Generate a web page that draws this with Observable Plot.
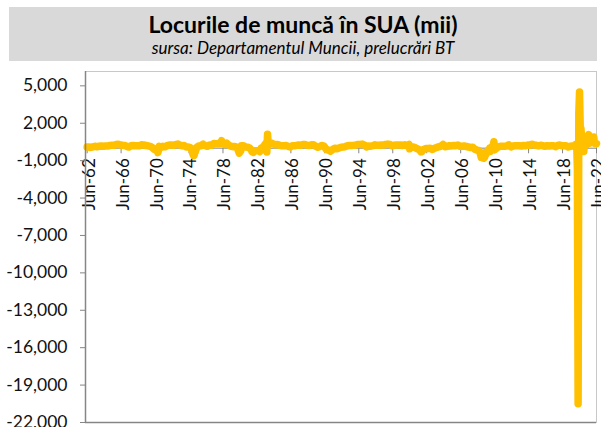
<!DOCTYPE html>
<html><head><meta charset="utf-8">
<script src="https://cdn.jsdelivr.net/npm/d3@7"></script>
<script src="https://cdn.jsdelivr.net/npm/@observablehq/plot@0.6"></script>
<style>
html,body{margin:0;padding:0;background:#fff;width:601px;height:427px;overflow:hidden}
#hdr{position:absolute;left:9px;top:7px;width:588px;height:54px;background:#d9d9d9;text-align:center;color:#000}
#t{font-family:"Lato",sans-serif;font-weight:bold;font-size:23px;line-height:26px;padding-top:4px}
#s{font-family:"Lato",sans-serif;font-style:italic;font-size:17px;line-height:20px;margin-top:1px}
#chart{position:absolute;left:0;top:61px}
</style></head><body>
<div id="hdr"><div id="t">Locurile de muncă în SUA (mii)</div><div id="s">sursa: Departamentul Muncii, prelucrări BT</div></div>
<div id="chart"></div>
<script>
// Monthly change in US nonfarm payrolls (thousands)
const periods = [
"1962-06","1962-08","1962-11",
"1963-02","1963-05","1963-08","1963-11",
"1964-02","1964-05","1964-08","1964-11",
"1965-02","1965-05","1965-08","1965-11",
"1966-02","1966-05","1966-08","1966-11",
"1967-02","1967-05","1967-08","1967-11",
"1968-02","1968-05","1968-08","1968-11",
"1969-02","1969-05","1969-08","1969-11",
"1970-02","1970-05","1970-08","1970-10","1970-11","1970-12",
"1971-02","1971-05","1971-08","1971-11",
"1972-02","1972-05","1972-08","1972-11",
"1973-02","1973-05","1973-08","1973-11",
"1974-02","1974-05","1974-08","1974-10","1974-11","1974-12",
"1975-01","1975-02","1975-03","1975-05","1975-08","1975-11",
"1976-02","1976-05","1976-08","1976-11",
"1977-02","1977-05","1977-08","1977-11",
"1978-02","1978-04","1978-06","1978-08","1978-11",
"1979-02","1979-05","1979-08","1979-11",
"1980-02","1980-04","1980-05","1980-06","1980-07","1980-08","1980-11",
"1981-02","1981-05","1981-08","1981-10","1981-11","1981-12",
"1982-01","1982-02","1982-05","1982-08","1982-10","1982-12",
"1983-02","1983-05","1983-07","1983-08","1983-09","1983-10","1983-12",
"1984-02","1984-05","1984-08","1984-11",
"1985-02","1985-05","1985-08","1985-11",
"1986-02","1986-05","1986-08","1986-11",
"1987-02","1987-05","1987-08","1987-11",
"1988-02","1988-05","1988-08","1988-11",
"1989-02","1989-05","1989-08","1989-11",
"1990-02","1990-05","1990-08","1990-11",
"1991-02","1991-05","1991-08","1991-11",
"1992-02","1992-05","1992-08","1992-11",
"1993-02","1993-05","1993-08","1993-11",
"1994-02","1994-05","1994-08","1994-11",
"1995-02","1995-05","1995-08","1995-11",
"1996-02","1996-05","1996-08","1996-11",
"1997-02","1997-05","1997-08","1997-11",
"1998-02","1998-05","1998-08","1998-11",
"1999-02","1999-05","1999-08","1999-11",
"2000-02","2000-05","2000-06","2000-08","2000-11",
"2001-02","2001-05","2001-08","2001-10","2001-11","2001-12",
"2002-02","2002-05","2002-08","2002-11",
"2003-02","2003-05","2003-08","2003-11",
"2004-02","2004-05","2004-08","2004-11",
"2005-02","2005-05","2005-08","2005-11",
"2006-02","2006-05","2006-08","2006-11",
"2007-02","2007-05","2007-08","2007-11",
"2008-02","2008-05","2008-08","2008-10","2008-11","2008-12",
"2009-01","2009-02","2009-03","2009-04","2009-05","2009-06","2009-07","2009-08","2009-09","2009-10","2009-11","2009-12",
"2010-02","2010-03","2010-04","2010-05","2010-06","2010-08","2010-11",
"2011-02","2011-05","2011-08","2011-11",
"2012-02","2012-05","2012-08","2012-11",
"2013-02","2013-05","2013-08","2013-11",
"2014-02","2014-05","2014-08","2014-11",
"2015-02","2015-05","2015-08","2015-11",
"2016-02","2016-05","2016-08","2016-11",
"2017-02","2017-05","2017-08","2017-11",
"2018-02","2018-05","2018-08","2018-11",
"2019-02","2019-05","2019-08","2019-11",
"2020-01","2020-02","2020-03","2020-04","2020-05","2020-06","2020-07","2020-08","2020-09","2020-10","2020-11","2020-12",
"2021-01","2021-02","2021-03","2021-04","2021-05","2021-06","2021-07","2021-08","2021-09","2021-10","2021-11","2021-12",
"2022-01","2022-02","2022-03","2022-04","2022-05","2022-06"
];
const jobs = [
100,90,60,
110,150,120,150,
180,150,170,170,
220,230,240,300,
320,260,230,220,
140,90,200,220,
200,200,200,270,
260,210,190,150,
50,-100,-50,-350,-120,150,
50,150,110,200,
250,260,230,280,
330,260,200,220,
90,100,30,-50,-380,-560,
-600,-380,-280,60,180,200,
320,200,150,250,
230,380,350,380,
360,600,400,300,400,
250,170,120,140,
80,-250,-400,-300,-250,200,200,
100,80,0,-150,-280,-300,
-330,-200,-200,-190,-280,0,
60,250,420,-308,1114,270,360,
420,340,280,300,
230,200,200,210,
150,100,200,190,
230,260,240,300,
300,240,220,280,
270,150,80,140,
220,150,-100,-150,
-250,-100,0,-50,
20,80,90,130,
200,220,220,230,
260,300,300,330,
250,100,170,160,
200,270,230,230,
260,250,300,330,
300,200,230,260,
250,250,220,270,
200,300,-50,100,100,
30,-50,-150,-300,-290,-160,
-100,-30,-20,0,
-100,-10,50,120,
150,300,120,150,
200,180,220,200,
250,150,150,180,
130,100,50,80,
-80,-150,-200,-480,-730,-700,
-780,-700,-800,-700,-350,-470,-330,-210,-230,-200,10,-270,
-30,160,250,520,-130,-40,100,
150,150,150,170,
270,100,170,200,
200,200,170,220,
200,260,240,320,
250,230,180,230,
200,150,200,170,
200,200,120,220,
250,200,190,200,
100,150,180,200,
315,275,-1680,-20500,2800,4500,1700,1580,720,680,260,-270,
520,710,700,270,450,960,1090,520,420,680,650,590,
500,900,400,370,390,370
];
const yTicks = [5000, 2000, -1000, -4000, -7000, -10000, -13000, -16000, -19000, -22000];
const xTickYears = [1962,1966,1970,1974,1978,1982,1986,1990,1994,1998,2002,2006,2010,2014,2018,2022];
const monthNames = ["Jan","Feb","Mar","Apr","May","Jun","Jul","Aug","Sep","Oct","Nov","Dec"];

const data = periods.map((p, i) => ({date: new Date(p + "-15T00:00:00Z"), value: jobs[i]}));
const xTicks = xTickYears.map(y => new Date(Date.UTC(y, 5, 15)));
const xStart = new Date(Date.UTC(1962, 3, 5));
const xEnd = new Date(Date.UTC(2022, 5, 15));
const fmtX = d => monthNames[d.getUTCMonth()] + "-" + String(d.getUTCFullYear() % 100).padStart(2, "0");
const fmtY = d => d.toLocaleString("en-US");

const axisCol = "#868686";
const marks = [
  Plot.frame({stroke: "#c8c8c8"}),
  Plot.ruleY([0], {stroke: axisCol}),
  Plot.ruleX(xTicks, {x: d => d, y1: 0, y2: -450, stroke: axisCol}),
  Plot.line(data, {x: "date", y: "value", stroke: "#FFC000", strokeWidth: 7.5, strokeLinecap: "round", strokeLinejoin: "round"}),
  Plot.text(xTicks, {x: d => d, y: () => 0, text: fmtX, rotate: -90, textAnchor: "end", dy: 10, dx: 2, fill: "#111", fontSize: 17}),
  Plot.ruleX([xStart], {stroke: axisCol, strokeWidth: 1.5}),
  Plot.ruleY([-22000], {stroke: axisCol, strokeWidth: 1.5})
];
if (Plot.axisY) {
  marks.push(Plot.axisY({ticks: yTicks, tickFormat: fmtY, tickSize: 5, tickPadding: 13, stroke: axisCol, fill: "#111", label: null}));
}
const chart = Plot.plot({
  width: 601, height: 366,
  marginTop: 10, marginBottom: 5, marginLeft: 85, marginRight: 5,
  style: {fontFamily: "Lato, sans-serif", fontSize: "17.5px", background: "transparent", overflow: "visible", color: "#111"},
  x: {type: "utc", domain: [xStart, xEnd], axis: null},
  y: Plot.axisY ? {domain: [-22000, 6150], axis: null} : {domain: [-22000, 6150], ticks: yTicks, tickFormat: fmtY, tickSize: 5, tickPadding: 13, label: null},
  marks
});
document.getElementById("chart").appendChild(chart);
</script>
</body></html>
